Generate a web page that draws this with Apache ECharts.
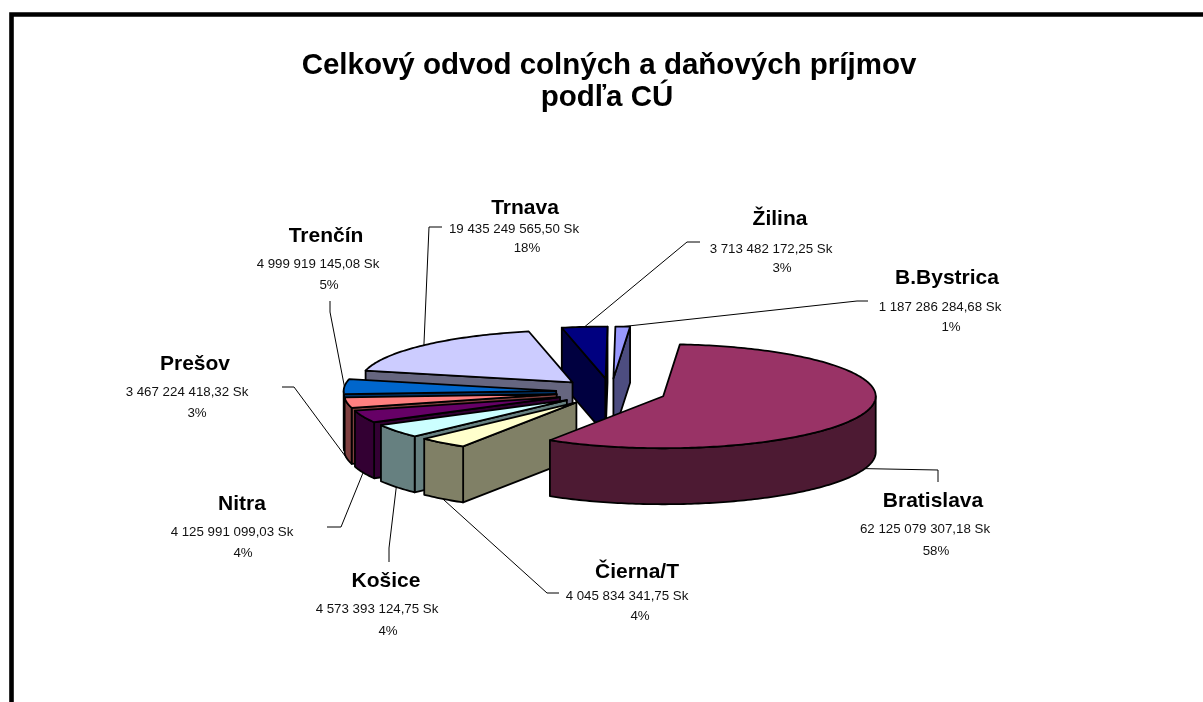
<!DOCTYPE html>
<html>
<head>
<meta charset="utf-8">
<style>html,body{margin:0;padding:0;background:#fff}#chart{width:1203px;height:702px}</style>
<script src="https://cdn.jsdelivr.net/npm/echarts@6/dist/echarts.min.js"></script>
</head>
<body>
<div id="chart"></div>
<script>
// ---- data ----
const categories = ['Bratislava','Čierna/T','Košice','Nitra','Prešov','Trenčín','Trnava','Žilina','B.Bystrica'];
const values = [62125079307.18,4045834341.75,4573393124.75,4125991099.03,3467224418.32,4999919145.08,19435249565.50,3713482172.25,1187286284.68];
const valueLabels = ['62 125 079 307,18 Sk','4 045 834 341,75 Sk','4 573 393 124,75 Sk','4 125 991 099,03 Sk','3 467 224 418,32 Sk','4 999 919 145,08 Sk','19 435 249 565,50 Sk','3 713 482 172,25 Sk','1 187 286 284,68 Sk'];
const percentLabels = ['58%','4%','4%','4%','3%','5%','18%','3%','1%'];
const titleLines = ['Celkový odvod colných a daňových príjmov','podľa CÚ'];
// ---- styles / layout ----
const topColors  = ['#993366','#FFFFCC','#CCFFFF','#660066','#FF8080','#0066CC','#CCCCFF','#000080','#9999FF'];
const sideColors = ['#4D1A33','#808066','#668080','#330033','#804040','#003366','#666680','#000040','#4D4D80'];
const pie = {cx:611, cy:392, rx:212.5, ry:52, depth:56, explode:55, start:4.5};
const nameAt  = [[933,501],[637,572],[386,581],[242,504],[195,364],[326,236],[525,208],[780,219],[947,278]];
const valueAt = [[925,529],[627,596],[377,609],[232,532],[187,392],[318,264],[514,229],[771,249],[940,307]];
const pctAt   = [[936,551],[640,616],[388,631],[243,553],[197,413],[329,285],[527,248],[782,268],[951,327]];
const elbows  = [
  [[938,470],[938,482]], [[547,593],[559,593]], [[389,548],[389,562]], [[341,527],[327,527]],
  [[294,387],[282,387]], [[330,312],[330,301]], [[429,227],[442,227]], [[687,242],[700,242]], [[857,301],[868,301]]
];

const total = values.reduce((a,b)=>a+b,0);
const rad = d => d*Math.PI/180;
const spans = []; { let a = pie.start; values.forEach(v => { const s = v/total*360; spans.push([a,a+s]); a += s; }); }
function centerOf(i){
  const m = rad((spans[i][0]+spans[i][1])/2);
  return [pie.cx + pie.explode*Math.sin(m), pie.cy - pie.explode*Math.cos(m)*pie.ry/pie.rx];
}
const onRim = (c,d) => [c[0]+pie.rx*Math.sin(rad(d)), c[1]-pie.ry*Math.cos(rad(d))];
function arc(c,a,b){
  const n = Math.max(2,Math.ceil(Math.abs(b-a))), out=[];
  for(let k=0;k<=n;k++) out.push(onRim(c,a+(b-a)*k/n));
  return out;
}
const drop = p => [p[0],p[1]+pie.depth];
const stroke = {stroke:'#000', lineWidth:1.8, lineJoin:'round'};

function renderSlice(params){
  const i = params.dataIndex, [a,b] = spans[i], c = centerOf(i), z2 = values.length-i, kids=[];
  const poly = (pts,fill)=>kids.push({type:'polygon',z2,shape:{points:pts},style:Object.assign({fill},stroke)});
  const face = d => { const p=onRim(c,d); poly([c,p,drop(p),drop(c)],sideColors[i]); };
  if(Math.sin(rad(a))<-1e-6) face(a);
  if(Math.sin(rad(b))> 1e-6) face(b);
  const lo=Math.max(a,90), hi=Math.min(b,270);
  if(hi>lo){ const rim=arc(c,lo,hi); poly(rim.concat(rim.map(drop).reverse()),sideColors[i]); }
  poly([c].concat(arc(c,a,b)),topColors[i]);
  return {type:'group',children:kids};
}
function renderLabel(params){
  const i = params.dataIndex, c = centerOf(i), m=(spans[i][0]+spans[i][1])/2;
  let p = onRim(c,m);
  const md = ((m%360)+360)%360;
  if(md>90 && md<270) p = drop(p);
  const text=(t,at,size,weight,fill)=>({type:'text',x:at[0],y:at[1],z2:50,style:{text:t,align:'center',verticalAlign:'middle',fontFamily:'"Liberation Sans",Arial,sans-serif',fontSize:size,fontWeight:weight,fill}});
  return {type:'group',children:[
    {type:'polyline',z2:40,shape:{points:[p].concat(elbows[i])},style:{stroke:'#000',lineWidth:1,fill:null}},
    text(categories[i],nameAt[i],21,'bold','#000'),
    text(valueLabels[i],valueAt[i],13.3,'normal','#111'),
    text(percentLabels[i],pctAt[i],13.3,'normal','#111')
  ]};
}

const chart = echarts.init(document.getElementById('chart'),null,{renderer:'canvas'});
chart.setOption({
  animation:false,
  backgroundColor:'#fff',
  title:[
    {text:titleLines[0],left:604,top:61,textAlign:'center',textVerticalAlign:'middle',textStyle:{fontFamily:'"Liberation Sans",Arial,sans-serif',fontSize:29.5,fontWeight:'bold',color:'#000'}},
    {text:titleLines[1],left:602,top:93,textAlign:'center',textVerticalAlign:'middle',textStyle:{fontFamily:'"Liberation Sans",Arial,sans-serif',fontSize:29.5,fontWeight:'bold',color:'#000'}}
  ],
  graphic:[{type:'rect',silent:true,shape:{x:11.5,y:14.5,width:1400,height:1000},style:{fill:null,stroke:'#000',lineWidth:4.6}}],
  series:[
    {type:'custom',name:'slices',coordinateSystem:'none',silent:true,data:values,renderItem:renderSlice},
    {type:'custom',name:'labels',coordinateSystem:'none',silent:true,data:values,renderItem:renderLabel}
  ]
});
</script>
</body>
</html>
